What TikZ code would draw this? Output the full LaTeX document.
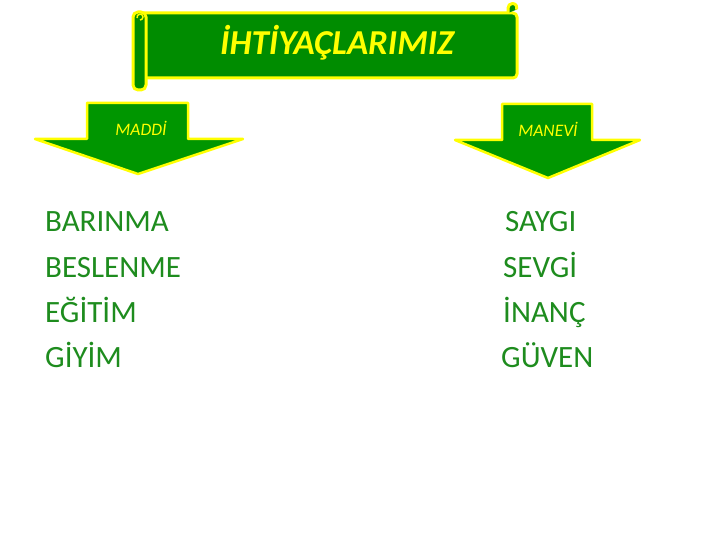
\documentclass[tikz,border=0pt]{standalone}
\usepackage{fontspec}
\setmainfont{Carlito}
\usepackage{xcolor}
\usepackage{tikz}
\definecolor{scrollgreen}{RGB}{0,140,0}
\definecolor{arrowgreen}{RGB}{0,150,0}
\definecolor{listgreen}{RGB}{30,140,30}
\definecolor{rimyellow}{RGB}{255,255,0}

\begin{document}
\begin{tikzpicture}[x=1pt, y=-1pt, line join=round,
  scroll/.style={draw=rimyellow, fill=scrollgreen, line width=3pt},
  downarrow/.style={draw=rimyellow, fill=arrowgreen, line width=2.5pt},
  tag/.style={text=rimyellow, font=\fontsize{17.5}{17.5}\selectfont\itshape, anchor=base},
  item/.style={text=listgreen, font=\fontsize{31}{31}\selectfont, anchor=base west, inner sep=0pt}]
\useasboundingbox (0,0) rectangle (720,540);
\coordinate (L) at (138,174);
\coordinate (R) at (548,178);

% banner
\draw[scroll, rounded corners=4pt] (140,13) -- (517,13) -- (517,78) -- (140,78);
\draw[scroll] (508,13) -- (508,8) arc[start angle=180, end angle=380, radius=4.5];
\draw[scroll, rounded corners=5pt] (133,12) rectangle (146,90);
\draw[draw=rimyellow, line width=1.5pt] (140,20) arc[start angle=90, end angle=-200, radius=3];
\node[text=rimyellow, font=\fontsize{35}{35}\selectfont\bfseries\itshape, anchor=base] (title) at (337,55) {İHTİYAÇLARIMIZ};

% arrows
\draw[downarrow] (87,103) -- (188,103) -- (188,139) -- (243,139) -- (L) -- (35,139) -- (87,139) -- cycle;
\draw[downarrow] (502,104) -- (592,104) -- (592,140) -- (640,140) -- (R) -- (455,140) -- (502,140) -- cycle;
\node[tag] (maddi) at (141,136) {MADDİ};
\node[tag] (manevi) at (548,137) {MANEVİ};

% lists
\node[item] (barinma) at (45,232) {BARINMA};
\node[item] (beslenme) at (45,277) {BESLENME};
\node[item] (egitim) at (45,322) {EĞİTİM};
\node[item] (giyim) at (45,367) {GİYİM};
\node[item] (saygi) at (505,232) {SAYGI};
\node[item] (sevgi) at (503,277) {SEVGİ};
\node[item] (inanc) at (503,322) {İNANÇ};
\node[item] (guven) at (501,367) {GÜVEN};
\end{tikzpicture}
\end{document}
